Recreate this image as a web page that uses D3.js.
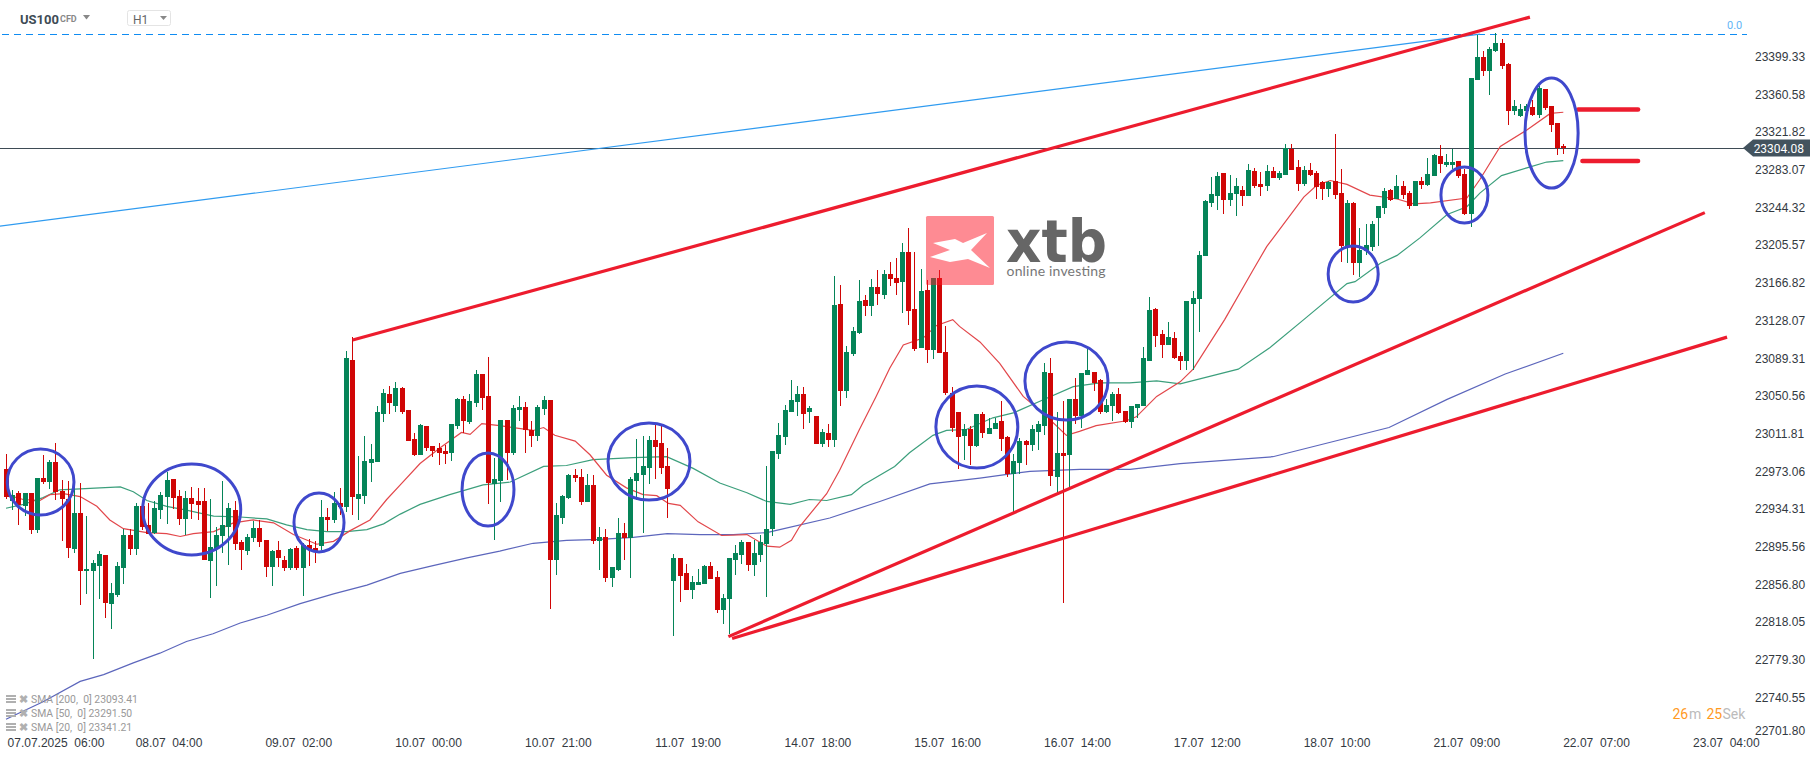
<!DOCTYPE html>
<html>
<head>
<meta charset="utf-8">
<title>US100 H1</title>
<script src="https://cdn.jsdelivr.net/npm/d3@7"></script>
<style>
  body { margin: 0; background: #fff; }
  svg { display: block; font-family: Roboto, sans-serif; }
  .axis text { font-size: 12px; fill: #33393f; white-space: pre; }
  .axis path, .axis line { display: none; }
</style>
</head>
<body>
<div id="chart"></div>
<script>
// hourly candles, one per bar
const opens = [
  22974,22941,22950,22936,22950,22912,22965,22961,22982,22952,
  22944,22892,22929,22869,22870,22875,22886,22836,22845,22873,
  22907,22892,22936,22917,22909,22932,22946,22964,22947,22923,
  22945,22941,22941,22880,22892,22905,22915,22932,22899,22890,
  22903,22914,22901,22874,22891,22881,22873,22893,22873,22896,
  22893,22895,22925,22922,22939,22935,23086,22944,22947,22981,
  22982,23031,23051,23039,23058,23035,23005,22989,23019,22998,
  22996,22993,22991,23019,23046,23023,23042,23072,23049,22959,
  22962,23025,22991,23035,23038,23014,23008,23036,23045,22881,
  22924,22945,22968,22966,22940,22958,22900,22904,22862,22871,
  22909,22903,22962,22968,22975,23004,23001,22977,22859,22883,
  22867,22850,22855,22856,22875,22863,22829,22841,22881,22886,
  22899,22876,22886,22897,22913,22990,23007,23033,23043,23052,
  23033,23029,23000,23011,23004,23144,23055,23093,23114,23148,
  23142,23161,23153,23175,23171,23167,23197,23139,23099,23158,
  23097,23171,23095,23053,23033,23008,23015,22998,23031,23010,
  23015,23024,23007,22969,22981,23003,22999,23012,23019,23073,
  22966,22991,22989,23046,23029,23071,23074,23066,23033,23039,
  23052,23034,23023,23037,23039,23085,23139,23113,23102,23109,
  23091,23085,23144,23149,23193,23248,23255,23279,23251,23257,
  23261,23255,23281,23267,23265,23281,23274,23277,23303,23285,
  23267,23282,23279,23269,23262,23271,23258,23204,23248,23186,
  23199,23203,23232,23243,23261,23252,23265,23258,23245,23270,
  23266,23276,23296,23287,23287,23291,23278,23237,23374,23398,
  23384,23404,23412,23391,23342,23337,23342,23347,23338,23365,23348,23330,23306
];
const closes = [
  22946,22948,22937,22950,22912,22965,22961,22982,22951,22944,
  22893,22929,22869,22872,22878,22887,22837,22847,22875,22907,
  22892,22936,22915,22908,22934,22948,22963,22945,22923,22945,
  22938,22937,22881,22894,22907,22917,22934,22897,22891,22904,
  22914,22899,22874,22890,22883,22873,22892,22873,22896,22891,
  22889,22925,22922,22939,22935,23088,22946,22949,22983,22985,
  23033,23053,23042,23058,23033,23003,22989,23020,22996,22993,
  22991,22990,23021,23046,23024,23044,23072,23047,22960,22964,
  23025,22991,23037,23038,23014,23008,23038,23045,22881,22927,
  22947,22968,22965,22940,22958,22900,22904,22862,22874,22909,
  22903,22964,22970,22977,23004,22997,22975,22954,22883,22864,
  22850,22858,22858,22875,22861,22829,22842,22883,22888,22899,
  22876,22888,22899,22913,22993,23009,23035,23045,23052,23031,
  23037,23000,23012,23004,23143,23055,23095,23116,23147,23142,
  23162,23154,23175,23170,23166,23197,23137,23098,23157,23097,
  23171,23094,23053,23017,23007,23015,22998,23031,23011,23017,
  23022,23005,22969,22983,23003,22999,23015,23021,23074,22967,
  22991,22988,23046,23029,23073,23076,23063,23033,23040,23052,
  23032,23023,23039,23041,23088,23138,23111,23102,23110,23088,
  23085,23147,23150,23194,23250,23257,23276,23251,23258,23265,
  23255,23282,23265,23264,23281,23274,23279,23304,23282,23267,
  23282,23277,23264,23262,23269,23256,23204,23248,23186,23200,
  23205,23226,23245,23260,23251,23265,23256,23245,23270,23266,
  23278,23297,23288,23290,23290,23276,23237,23376,23398,23384,
  23406,23412,23389,23342,23348,23345,23348,23338,23366,23346,23328,23304,23304.08
];
const highs = [
  22990,22953,22952,22950,22950,22965,22989,22984,23001,22963,
  22962,22960,22960,22926,22881,22890,22886,22857,22879,22913,
  22913,22939,22939,22939,22941,22951,22971,22964,22953,22952,
  22956,22955,22955,22944,22915,22962,22939,22941,22901,22908,
  22921,22922,22901,22891,22900,22885,22893,22895,22898,22902,
  22900,22942,22934,22951,22955,23096,23110,22988,23008,23000,
  23039,23057,23060,23064,23059,23035,23011,23021,23019,22998,
  23001,22999,23021,23047,23049,23051,23076,23072,23090,22986,
  23025,23025,23040,23049,23043,23024,23040,23049,23045,22939,
  22948,22969,22974,22974,22969,22968,22915,22913,22874,22924,
  22919,22966,23005,23008,23008,23020,23019,22996,22887,22883,
  22877,22864,22872,22876,22879,22869,22846,22883,22896,22901,
  22899,22901,22907,22977,22993,23022,23040,23066,23060,23059,
  23039,23029,23015,23021,23173,23164,23101,23120,23169,23153,
  23170,23179,23179,23187,23191,23207,23222,23198,23180,23169,
  23171,23179,23121,23059,23033,23021,23019,23031,23033,23027,
  23027,23044,23008,22990,23006,23004,23020,23024,23083,23089,
  23033,23044,23046,23068,23073,23098,23074,23067,23046,23054,
  23058,23034,23039,23041,23100,23151,23140,23117,23126,23115,
  23095,23147,23157,23199,23251,23275,23280,23279,23277,23274,
  23265,23288,23284,23280,23287,23285,23281,23309,23309,23292,
  23286,23289,23281,23271,23271,23319,23283,23251,23249,23222,
  23226,23229,23245,23263,23262,23277,23270,23260,23270,23275,
  23294,23298,23308,23298,23303,23291,23283,23376,23422,23404,
  23408,23423,23416,23392,23354,23350,23350,23354,23368,23365,23348,23330,23309
];
const lows = [
  22944,22932,22917,22926,22908,22909,22959,22954,22943,22900,
  22883,22888,22835,22846,22779,22841,22821,22810,22843,22856,
  22886,22886,22912,22908,22908,22923,22918,22933,22917,22907,
  22923,22922,22881,22842,22854,22888,22876,22891,22871,22886,
  22899,22894,22863,22854,22874,22869,22871,22871,22844,22875,
  22878,22891,22911,22919,22927,22930,22927,22922,22938,22961,
  22982,23023,23031,23033,23031,23003,22988,22989,22993,22987,
  22978,22980,22983,23015,23011,23021,23038,23035,22938,22901,
  22940,22963,22989,23024,22991,22997,23003,23030,22830,22865,
  22918,22944,22961,22937,22940,22897,22871,22858,22853,22869,
  22881,22862,22943,22909,22959,22964,22969,22924,22803,22838,
  22850,22841,22855,22856,22861,22826,22815,22805,22865,22877,
  22869,22864,22879,22843,22905,22985,22999,23033,23029,23016,
  23022,23000,22997,22997,22997,23039,23047,23091,23113,23132,
  23132,23143,23149,23163,23153,23135,23122,23096,23099,23083,
  23087,23094,23050,23012,22974,22984,22978,22997,23006,23010,
  23015,22993,22966,22929,22969,22979,22993,22994,23009,22957,
  22949,22837,22953,23021,23017,23071,23055,23031,23032,23024,
  23031,23022,23017,23027,23039,23085,23100,23089,23102,23087,
  23076,23076,23076,23115,23193,23244,23241,23237,23245,23235,
  23245,23255,23263,23255,23260,23274,23272,23277,23282,23260,
  23265,23276,23252,23251,23254,23252,23187,23186,23174,23172,
  23194,23199,23204,23237,23250,23252,23252,23242,23245,23262,
  23265,23276,23279,23285,23283,23274,23236,23223,23374,23378,
  23359,23403,23386,23328,23338,23336,23338,23337,23335,23344,23321,23297,23298
];

// moving averages as [bar, price] readings
const sma20 = [
  [0,22948],[2.8,22943],[5.5,22942],[7.1,22948],[9.3,22949],[12,22946],[14.7,22936],[16.8,22922],[19,22913],[22.8,22909],
  [26,22908],[28.2,22905],[30.3,22908],[33.6,22910],[36.8,22919],[40,22922],[43.3,22919],[46.5,22907],[50.3,22897],[53,22900],
  [55.7,22911],[58.9,22922],[61.6,22943],[63.8,22958],[67,22980],[70.2,22996],[73.7,23012],[75.1,23010],[77,23021],[79.9,23019],
  [85.3,23014],[87,23017],[88.8,23009],[92.1,23003],[94.5,22989],[97.2,22968],[100.4,22955],[103.1,22948],[105.3,22947],[107.2,22939],
  [109.1,22937],[112,22920],[115.8,22906],[119.9,22907],[123.1,22895],[125.2,22894],[127.1,22901],[128.4,22915],[132.8,22949],[134.9,22973],
  [138.1,23015],[140.8,23049],[143,23078],[145.2,23102],[148.4,23109],[150.6,23122],[153.2,23128],[154.3,23121],[157.6,23105],[160.8,23083],
  [164.6,23049],[167.8,23032],[171.6,23009],[173.7,23013],[176.4,23019],[181.3,23024],[182.9,23028],[186.2,23049],[190,23064],[192.1,23077],
  [197.2,23128],[201.8,23179],[204,23203],[210,23254],[212.1,23266],[214.3,23271],[217,23267],[220.7,23256],[225.1,23252],[227.8,23247],
  [230.5,23248],[236.4,23253],[238.5,23272],[241.8,23306],[246.1,23323],[249.9,23340],[252,23341.21]
];
const sma50 = [
  [0,22934],[2.8,22938],[6,22945],[8.7,22953],[12,22954],[15.2,22955],[18.5,22956],[20.6,22951],[22.8,22942],[26,22936],
  [29.2,22932],[33.6,22926],[37.9,22925],[42.2,22923],[45.4,22917],[48.7,22912],[51.9,22910],[55.1,22910],[58.4,22912],[61.1,22918],
  [63.8,22928],[67,22938],[71.8,22948],[77.2,22958],[81.6,22961],[87,22977],[90.7,22978],[95,22984],[101.5,22986],[106.9,22987],
  [111.2,22975],[115.5,22960],[119.9,22950],[123.1,22941],[126.9,22938],[130,22943],[132.8,22942],[136.8,22948],[138.7,22958],[143.8,22977],
  [146.2,22991],[150,23009],[152.2,23014],[155.4,23015],[159.7,23027],[163,23032],[167.3,23044],[172.7,23059],[177,23063],[181.8,23063],
  [186.2,23065],[190,23062],[199.4,23077],[204.5,23099],[210,23128],[217,23165],[218.3,23167],[222.4,23186],[225.1,23194],[228.8,23212],
  [233.2,23236],[236.4,23244],[238.5,23258],[242,23276],[246.1,23284],[249.3,23290],[252,23291.5]
];
const sma200 = [
  [0,22717],[6,22735],[12,22756],[15.8,22763],[20.6,22775],[24.9,22785],[29.2,22797],[33.5,22805],[37.9,22816],[42.2,22824],
  [47.6,22836],[53,22846],[58.4,22855],[63.8,22867],[69.1,22875],[74.6,22883],[79.9,22890],[85.3,22898],[90.7,22901],[96.1,22902],
  [101.5,22904],[107,22908],[112.3,22907],[117.7,22907],[123.1,22909],[125.2,22912],[133.3,22924],[141.4,22941],[149.5,22959],[157.6,22965],
  [165.7,22972],[173.8,22974],[181.9,22974],[190,22980],[205,22987],[223.8,23017],[233.2,23046],[242.6,23072],[252,23093.41]
];

// drawn objects, in [bar, price] terms
const blueLine = [[-1,23224],[238.5,23421.5]];
const fibLevel = 23421.3;
const redLines = [
  [[56.1,23107],[246.6,23439]],
  [[116.9,22802],[274.9,23238]],
  [[117.5,22800],[278.5,23110]]
];
const redMarks = [
  [[254.4,23344],[264.1,23344]],
  [[255.1,23291],[264.1,23291]]
];
// bar, price, bar radius, price radius
const ellipses = [
  [5.6,22961,5.4,33.9],[30.05,22932.7,7.93,46.8],[50.65,22919.4,4.05,30.3],[78,22953.3,4.2,37.5],[104.05,22982,6.63,39.6],
  [157.1,23017.6,6.63,42.2],[171.6,23064.9,6.72,40.1],[218,23174.9,4.05,28.8],[236,23256.1,3.8,28.8],[250.1,23319.8,4.3,56.6]
];

const lastPrice = 23304.08;
const priceTicks = [23399.33,23360.58,23321.82,23283.07,23244.32,23205.57,23166.82,23128.07,23089.31,23050.56,
  23011.81,22973.06,22934.31,22895.56,22856.80,22818.05,22779.30,22740.55,22701.80];
const timeBars = [8,26.3,47.3,68.3,89.3,110.3,131.3,152.3,173.3,194.3,215.3,236.3,257.3,278.3];
const timeLabels = ["07.07.2025  06:00","08.07  04:00","09.07  02:00","10.07  00:00","10.07  21:00","11.07  19:00",
  "14.07  18:00","15.07  16:00","16.07  14:00","17.07  12:00","18.07  10:00","21.07  09:00","22.07  07:00","23.07  04:00"];
const legendRows = ["SMA [200,  0] 23093.41","SMA [50,  0] 23291.50","SMA [20,  0] 23341.21"];

const GREEN = "#058458", RED = "#d00606", OUTLINE = "#3f48cc", TREND = "#ed1c2e", DARK = "#3e4b55";

const svg = d3.select("#chart").append("svg").attr("width", 1815).attr("height", 759);

const x = d3.scaleLinear().domain([0, 252]).range([6, 1563.3]);
const y = d3.scaleLinear().domain([22701.80, 23399.33]).range([734.1, 55.7]);

// axes
const yAxis = d3.axisRight(y).tickValues(priceTicks).tickFormat(d3.format(".2f")).tickSize(0).tickPadding(0);
const yG = svg.append("g").attr("class", "axis").attr("transform", "translate(1755,1)").call(yAxis);
yG.selectAll(".tick").filter(d => d === 22701.80).select("text").attr("dy", "-0.05em");

const xAxis = d3.axisBottom(x).tickValues(timeBars).tickFormat((d, i) => timeLabels[i]).tickSize(0).tickPadding(0);
svg.append("g").attr("class", "axis").attr("transform", "translate(0,738.5)").call(xAxis);

// last price and the fib level
svg.append("line").attr("x1", 0).attr("x2", 1745)
  .attr("y1", Math.round(y(lastPrice)) + 0.5).attr("y2", Math.round(y(lastPrice)) + 0.5)
  .attr("stroke", DARK).attr("stroke-width", 1);
svg.append("line").attr("x1", 2).attr("x2", 1747)
  .attr("y1", Math.floor(y(fibLevel)) + 0.5).attr("y2", Math.floor(y(fibLevel)) + 0.5)
  .attr("stroke", "#0f8cf2").attr("stroke-width", 1).attr("stroke-dasharray", "7 5");
svg.append("text").attr("x", 1727).attr("y", 29).attr("font-size", 11).attr("fill", "#64b5f6").text("0.0");

// moving averages
const smaLine = d3.line().x(d => x(d[0])).y(d => y(d[1]));
[[sma200, "#5c66bc"], [sma50, "#3c9f7c"], [sma20, "#e2474b"]].forEach(([rows, col]) => {
  svg.append("path").datum(rows).attr("d", smaLine)
    .attr("fill", "none").attr("stroke", col).attr("stroke-width", 1.2);
});

// candles
const bars = d3.range(opens.length);
const candles = svg.append("g").attr("shape-rendering", "crispEdges");
candles.selectAll("line").data(bars).join("line")
  .attr("x1", i => Math.round(x(i)) + 0.5).attr("x2", i => Math.round(x(i)) + 0.5)
  .attr("y1", i => y(highs[i])).attr("y2", i => y(lows[i]))
  .attr("stroke", i => closes[i] >= opens[i] ? GREEN : RED);
candles.selectAll("rect").data(bars).join("rect")
  .attr("x", i => Math.round(x(i)) - 2).attr("width", 5)
  .attr("y", i => y(Math.max(opens[i], closes[i])))
  .attr("height", i => Math.max(1, Math.abs(y(opens[i]) - y(closes[i]))))
  .attr("fill", i => closes[i] >= opens[i] ? GREEN : RED);

// drawings on top of the candles
svg.append("path").datum(blueLine).attr("d", smaLine)
  .attr("fill", "none").attr("stroke", "#2f9bf0").attr("stroke-width", 1.2);
svg.selectAll("path.trend").data(redLines).join("path").attr("class", "trend")
  .attr("d", smaLine).attr("fill", "none").attr("stroke", TREND).attr("stroke-width", 3.2);
svg.selectAll("path.mark").data(redMarks).join("path").attr("class", "mark")
  .attr("d", smaLine).attr("fill", "none").attr("stroke", TREND).attr("stroke-width", 4.5).attr("stroke-linecap", "round");
svg.selectAll("ellipse").data(ellipses).join("ellipse")
  .attr("cx", d => x(d[0])).attr("cy", d => y(d[1]))
  .attr("rx", d => x(d[2]) - x(0)).attr("ry", d => y(0) - y(d[3]))
  .attr("fill", "none").attr("stroke", OUTLINE).attr("stroke-width", 3);

// price tag
const tagY = Math.round(y(lastPrice));
svg.append("path")
  .attr("d", `M1743,${tagY} L1753,${tagY - 8.5} H1810 V${tagY + 8.5} H1753 Z`)
  .attr("fill", "#43535e");
svg.append("text").attr("x", 1804).attr("y", tagY + 4.5).attr("text-anchor", "end")
  .attr("font-size", 12).attr("fill", "#fff").text(d3.format(".2f")(lastPrice));

// logo
const logo = svg.append("g");
logo.append("rect").attr("x", 926).attr("y", 216).attr("width", 68).attr("height", 69).attr("rx", 1.5)
  .attr("fill", "#fd1828").attr("fill-opacity", 0.5);
logo.append("path")
  .attr("d", "M933,243 L955,239 L963,243 L987,233 L971,250 L990,268 L968,259 L950,262 L930,257 L950,250 Z")
  .attr("fill", "#fff");
logo.append("text").attr("x", 1006).attr("y", 262).attr("font-family", "'DejaVu Sans'").attr("font-weight", 700)
  .attr("font-size", 59).attr("textLength", 101).attr("lengthAdjust", "spacingAndGlyphs").attr("fill", "#666").text("xtb");
logo.append("text").attr("x", 1006.5).attr("y", 276).attr("font-family", "Lato").attr("font-size", 14)
  .attr("textLength", 99).attr("fill", "#777").text("online investing");

// header
svg.append("text").attr("x", 20).attr("y", 23.5).attr("font-size", 13).attr("font-weight", 700).attr("fill", "#3e4b55").text("US100");
svg.append("text").attr("x", 60).attr("y", 22).attr("font-size", 9).attr("font-weight", 700).attr("fill", "#888").text("CFD");
svg.append("path").attr("d", "M83,15 H90 L86.5,19.5 Z").attr("fill", "#888");
svg.append("rect").attr("x", 127.5).attr("y", 10.5).attr("width", 43).attr("height", 15).attr("rx", 2)
  .attr("fill", "#fff").attr("stroke", "#e4e4e4");
svg.append("text").attr("x", 133).attr("y", 24).attr("font-size", 12).attr("fill", "#666").text("H1");
svg.append("path").attr("d", "M160,16 H167 L163.5,20 Z").attr("fill", "#888");

// legend
const legend = svg.selectAll("g.legend").data(legendRows).join("g").attr("class", "legend")
  .attr("transform", (d, i) => `translate(0,${699 + i * 14})`);
[-4, -1, 2].forEach(dy => {
  legend.append("rect").attr("x", 6).attr("y", dy).attr("width", 10).attr("height", 2).attr("fill", "#b0b0b0");
});
legend.append("text").attr("x", 19).attr("y", 3.5).attr("font-size", 11).attr("font-weight", 700).attr("fill", "#b0b0b0").text("✖");
legend.append("text").attr("x", 31).attr("y", 4).attr("font-size", 10.4).attr("fill", "#999")
  .style("white-space", "pre").text(d => d);

// countdown
svg.append("text").attr("x", 1672.5).attr("y", 719).attr("font-size", 14).attr("fill", "#ff9a1f").text("26");
svg.append("text").attr("x", 1689).attr("y", 719).attr("font-size", 14).attr("fill", "#bbb").text("m");
svg.append("text").attr("x", 1706.5).attr("y", 719).attr("font-size", 14).attr("fill", "#ff9a1f").text("25");
svg.append("text").attr("x", 1722.5).attr("y", 719).attr("font-size", 14).attr("fill", "#bbb").text("Sek");
</script>
</body>
</html>
